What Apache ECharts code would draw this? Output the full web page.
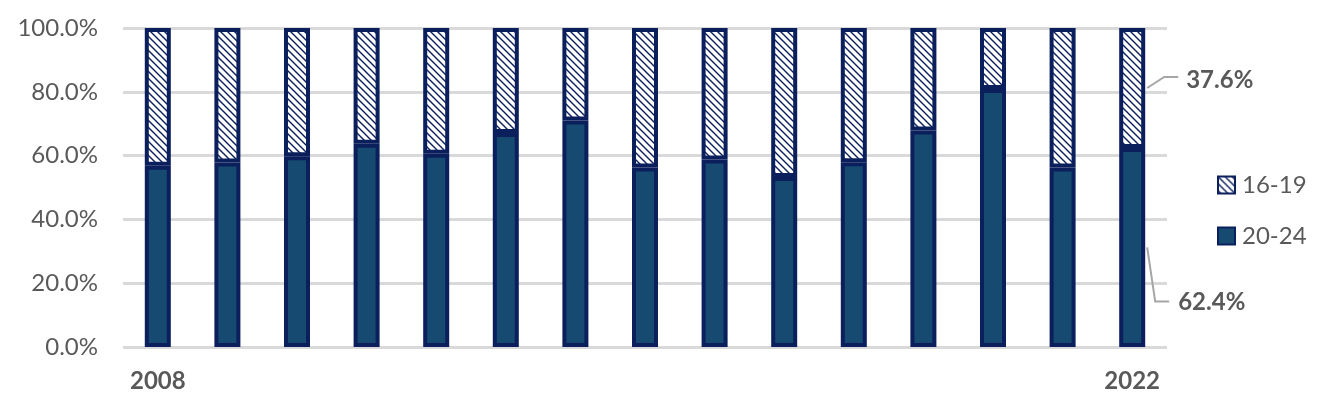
<!DOCTYPE html>
<html>
<head>
<meta charset="utf-8">
<script src="https://cdn.jsdelivr.net/npm/echarts@6/dist/echarts.min.js"></script>
<style>
  html, body { margin: 0; padding: 0; background: #fff; }
  #chart { width: 1324px; height: 416px; }
</style>
</head>
<body>
<div id="chart"></div>
<script>
// 年份
const years = ['2008', '2009', '2010', '2011', '2012', '2013', '2014', '2015',
  '2016', '2017', '2018', '2019', '2020', '2021', '2022']
// 20-24 占比
const share2024 = [56.8, 57.8, 59.8, 63.7, 60.6, 67.1, 71.0, 56.3, 58.8, 53.3, 57.9, 67.9, 80.9, 56.3, 62.4]
// 16-19 占比
const share1619 = [43.2, 42.2, 40.2, 36.3, 39.4, 32.9, 29.0, 43.7, 41.2, 46.7, 42.1, 32.1, 19.1, 43.7, 37.6]
const yTicks = [0, 20, 40, 60, 80, 100]

const navy = '#0b1f5c'
const fill = '#164a70'
const grey = '#595959'
const font = 'Lato, "Open Sans", sans-serif'
const barW = 26
const borderW = 4

// 斜线填充图案
function hatch() {
  const c = document.createElement('canvas')
  c.width = 7
  c.height = 7
  const ctx = c.getContext('2d')
  ctx.fillStyle = '#fff'
  ctx.fillRect(0, 0, 7, 7)
  ctx.strokeStyle = navy
  ctx.lineWidth = 1.4
  ctx.beginPath()
  ctx.moveTo(-1, -1); ctx.lineTo(8, 8)
  ctx.moveTo(-8, -1); ctx.lineTo(1, 8)
  ctx.moveTo(6, -1); ctx.lineTo(15, 8)
  ctx.stroke()
  return c
}

const last = years.length - 1

// 只给最后一根柱子加标签
function withLastLabel(arr, extra) {
  return arr.map((v, i) => i === last ? { value: v, label: extra } : v)
}

const labelStyle = {
  show: true,
  position: 'right',
  distance: 5,
  fontFamily: font,
  fontWeight: 'bold',
  fontSize: 24,
  color: grey,
  formatter: p => p.value.toFixed(1) + '%'
}

const chart = echarts.init(document.getElementById('chart'))
chart.setOption({
  animation: false,
  grid: { left: 123, right: 157, top: 28, bottom: 69 },
  legend: {
    orient: 'vertical',
    left: 1212,
    top: 168,
    icon: 'rect',
    itemWidth: 17,
    itemHeight: 17,
    itemGap: 27,
    data: ['16-19', '20-24'],
    textStyle: { fontFamily: font, fontSize: 24, color: grey, padding: [0, 0, 0, 2] }
  },
  xAxis: {
    type: 'category',
    data: years,
    axisLine: { show: false },
    axisTick: { show: false },
    axisLabel: {
      interval: (i) => i === 0 || i === last,
      margin: 22,
      fontFamily: font,
      fontWeight: 'bold',
      fontSize: 24,
      color: grey
    }
  },
  yAxis: {
    type: 'value',
    min: yTicks[0],
    max: yTicks[yTicks.length - 1],
    interval: 20,
    axisLine: { show: false },
    axisTick: { show: false },
    axisLabel: {
      margin: 25,
      fontFamily: font,
      fontSize: 24,
      color: grey,
      formatter: v => v.toFixed(1) + '%'
    },
    splitLine: { lineStyle: { color: '#d9d9d9', width: 3 } }
  },
  series: [
    {
      name: '20-24',
      type: 'bar',
      stack: 'all',
      barWidth: barW,
      data: withLastLabel(share2024, labelStyle),
      itemStyle: { color: fill, borderColor: navy, borderWidth: borderW },
      labelLayout: p => p.dataIndex === last ? { dx: 28, dy: 55 } : {}
    },
    {
      name: '16-19',
      type: 'bar',
      stack: 'all',
      barWidth: barW,
      data: withLastLabel(share1619, labelStyle),
      itemStyle: { color: { image: hatch(), repeat: 'repeat' }, borderColor: navy, borderWidth: borderW },
      labelLayout: p => p.dataIndex === last ? { dx: 36, dy: -8 } : {}
    }
  ]
})

// 引导线：从最后一根柱子每段的中点出发
const lowMid = chart.convertToPixel({ seriesIndex: 0 }, [last, share2024[last] / 2])
const highMid = chart.convertToPixel({ seriesIndex: 0 }, [last, share2024[last] + share1619[last] / 2])
const edge = barW / 2 + borderW / 2
function leaderLine(pt, bx, by, ex) {
  const x0 = pt[0] + edge
  const y0 = pt[1]
  return {
    type: 'polyline',
    shape: { points: [[x0, y0], [x0 + bx, y0 + by], [x0 + ex, y0 + by]] },
    style: { stroke: '#a6a6a6', lineWidth: 2, fill: null },
    z: 10
  }
}
chart.setOption({
  graphic: [
    leaderLine(highMid, 17, -11, 31),
    leaderLine(lowMid, 8, 54, 22)
  ]
})
</script>
</body>
</html>
